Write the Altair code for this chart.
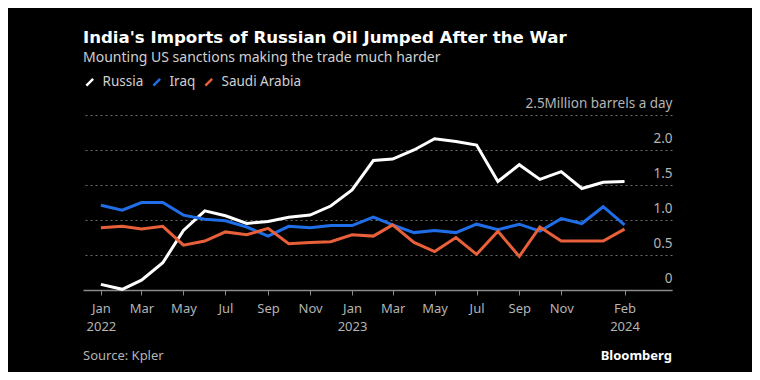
import altair as alt
import pandas as pd

months = pd.date_range("2022-01-01", "2024-02-01", freq="MS").strftime("%Y-%m-%d").tolist()

russia = [0.08, 0.01, 0.14, 0.39, 0.85, 1.13, 1.06, 0.95, 0.98, 1.04, 1.07, 1.20, 1.43,
          1.85, 1.87, 2.00, 2.16, 2.12, 2.07, 1.55, 1.79, 1.58, 1.69, 1.45, 1.54, 1.55]
iraq = [1.21, 1.14, 1.25, 1.25, 1.07, 1.01, 0.99, 0.90, 0.77, 0.91, 0.89, 0.92, 0.92,
        1.04, 0.93, 0.82, 0.85, 0.82, 0.94, 0.86, 0.94, 0.84, 1.02, 0.95, 1.19, 0.93]
saudi = [0.89, 0.91, 0.87, 0.91, 0.64, 0.70, 0.83, 0.79, 0.88, 0.66, 0.68, 0.69, 0.79,
         0.77, 0.93, 0.68, 0.55, 0.75, 0.51, 0.84, 0.48, 0.90, 0.70, 0.70, 0.70, 0.87]

series = ["Russia", "Iraq", "Saudi Arabia"]
colors = ["#ffffff", "#1f6ee8", "#e8603a"]
y_ticks = [0, 0.5, 1.0, 1.5, 2.0, 2.5]

rows = []
for name, vals in zip(series, [russia, iraq, saudi]):
    for m, v in zip(months, vals):
        rows.append({"date": m, "country": name, "value": v})
df = pd.DataFrame(rows)

W, H = 589, 175
FONT = "Noto Sans"

x_tick_values = [alt.DateTime(year=y, month=m, date=1, utc=True) for (y, m) in
                 [(2022, 1), (2022, 3), (2022, 5), (2022, 7), (2022, 9), (2022, 11),
                  (2023, 1), (2023, 3), (2023, 5), (2023, 7), (2023, 9), (2023, 11),
                  (2024, 2)]]

x_enc = alt.X(
    "date:T",
    scale=alt.Scale(type="utc",
                    domain=[alt.DateTime(year=2021, month=12, date=6, utc=True),
                            alt.DateTime(year=2024, month=4, date=10, utc=True)]),
    axis=alt.Axis(
        values=x_tick_values,
        labelExpr="(utcmonth(datum.value) == 0 || utcyear(datum.value) == 2024) ? "
                  "[utcFormat(datum.value, '%b'), utcFormat(datum.value, '%Y')] : utcFormat(datum.value, '%b')",
        title=None, grid=False, domainColor="#8a8a8a", tickColor="#8a8a8a",
        tickSize=5, labelColor="#b4b4b4", labelFont=FONT, labelFontSize=13,
        labelPadding=7, labelLineHeight=18, domainWidth=1.5,
    ),
)

y_enc = alt.Y(
    "value:Q",
    scale=alt.Scale(domain=[0, 2.5], nice=False),
    axis=alt.Axis(
        values=y_ticks, orient="right", title=None, domain=False, ticks=False, tickSize=0,
        labelPadding=0, labelAlign="right", labelBaseline="bottom", labelOffset=-5,
        labelExpr="datum.value == 0 ? '0' : (datum.value == 2.5 ? '2.5Million barrels a day' : format(datum.value, '.1f'))",
        labelColor="#b4b4b4", labelFont=FONT, labelFontSize=13.5,
        gridColor="#6a6a6a", gridDash=[2, 3], gridWidth=1,
    ),
)

lines = alt.Chart(df).mark_line(strokeWidth=3).encode(
    x=x_enc,
    y=y_enc,
    color=alt.Color(
        "country:N",
        scale=alt.Scale(domain=series, range=colors),
        sort=series,
        legend=alt.Legend(
            title=None, orient="none", direction="horizontal", legendX=0, legendY=-40,
            symbolType="M-1,1L1,-1", symbolSize=45, symbolStrokeWidth=2.5,
            labelColor="#d0d0d0", labelFont=FONT, labelFontSize=13.5,
            columnPadding=4, labelOffset=6,
        ),
    ),
    order=alt.Order("date:T"),
)

source = alt.Chart(pd.DataFrame({"t": ["Source: Kpler"]})).mark_text(
    align="left", baseline="alphabetic", font=FONT, fontSize=13, color="#b4b4b4"
).encode(text="t:N", x=alt.value(0), y=alt.value(H + 70))

brand = alt.Chart(pd.DataFrame({"t": ["Bloomberg"]})).mark_text(
    align="right", baseline="alphabetic", font=FONT, fontSize=13, fontWeight="bold", color="#ffffff"
).encode(text="t:N", x=alt.value(W), y=alt.value(H + 70))

chart = alt.layer(lines, source, brand).properties(
    width=W, height=H,
    title=alt.TitleParams(
        text="India's Imports of Russian Oil Jumped After the War",
        subtitle="Mounting US sanctions making the trade much harder",
        anchor="start", frame="group", font="DejaVu Sans", fontSize=16.6, fontWeight="bold",
        color="#ffffff", subtitleFont=FONT, subtitleFontSize=14, subtitleColor="#d0d0d0",
        subtitlePadding=4, offset=10,
    ),
    autosize=alt.AutoSizeParams(type="none"),
    padding={"left": 75, "top": 107, "right": 80, "bottom": 82},
).configure(background="#000000").configure_view(stroke=None)

chart.save("out.html", embed_options={"renderer": "svg", "actions": False})
